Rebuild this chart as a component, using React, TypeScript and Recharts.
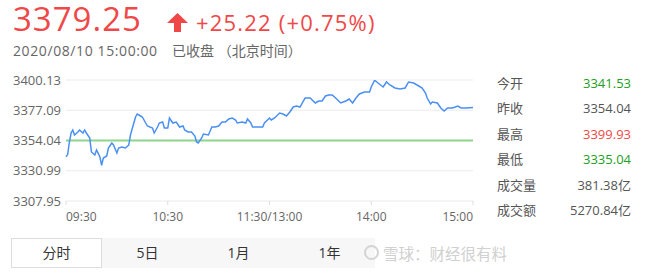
import React from 'react';
import { LineChart, Line, XAxis, YAxis, CartesianGrid, ReferenceLine } from 'recharts';

// minutes since 09:30 (trading minutes, lunch break skipped)
const minutes = [
  0, 1, 2, 3, 4, 5, 7, 8, 10, 11, 12, 14, 15, 17, 18, 20, 21, 22, 24, 25, 27, 28, 30, 31, 33, 35, 37, 38,
  40, 41, 42, 44, 45, 47, 48, 51, 52, 54, 55, 57, 58, 60, 61, 63, 65, 67, 69, 70, 72, 74, 76, 77, 78, 80,
  81, 84, 86, 88, 90, 92, 94, 96, 98, 100, 101, 104, 106, 107, 109, 110, 113, 116, 117, 120, 121, 123,
  126, 128, 130, 132, 134, 136, 138, 141, 144, 147, 149, 151, 153, 155, 157, 159, 162, 165, 167, 169,
  171, 173, 176, 179, 180, 182, 184, 187, 189, 191, 194, 197, 200, 202, 205, 208, 210, 212, 213, 215,
  216, 219, 221, 223, 225, 228, 231, 233, 236, 240,
];

const prices = [
  3341.53, 3343.5, 3352.9, 3359.75, 3362.04, 3358.23, 3360.52, 3362.04, 3359.75, 3362.04, 3359.75, 3355.95,
  3345.28, 3343.0, 3346.8, 3341.47, 3335.04, 3340.71, 3342.23, 3348.33, 3352.14, 3350.61, 3344.52, 3348.33,
  3349.09, 3348.33, 3350.61, 3358.23, 3367.37, 3371.94, 3374.23, 3372.7, 3371.94, 3367.37, 3365.09, 3363.56,
  3359.75, 3364.32, 3367.37, 3368.13, 3363.56, 3363.56, 3371.18, 3367.37, 3368.13, 3364.32, 3365.09, 3362.04,
  3360.52, 3360.52, 3357.47, 3352.9, 3352.14, 3355.95, 3358.99, 3358.23, 3364.32, 3364.32, 3365.09, 3368.13,
  3368.13, 3370.42, 3371.18, 3369.66, 3367.37, 3368.13, 3367.37, 3370.42, 3367.37, 3364.32, 3364.32, 3364.32,
  3367.37, 3371.18, 3369.66, 3371.18, 3374.99, 3374.23, 3372.7, 3375.75, 3379.56, 3380.32, 3379.56, 3386.42,
  3386.42, 3382.61, 3384.13, 3384.13, 3387.94, 3388.7, 3388.7, 3386.42, 3382.61, 3384.13, 3385.66, 3382.61,
  3386.42, 3389.47, 3390.99, 3390.99, 3394.8, 3399.93, 3397.84, 3394.8, 3398.61, 3396.32, 3394.04, 3393.27,
  3394.04, 3398.61, 3397.84, 3395.56, 3394.04, 3390.23, 3386.42, 3381.85, 3383.37, 3382.61, 3378.8, 3376.51,
  3378.8, 3378.8, 3380.32, 3378.8, 3378.8, 3379.25,
];

const yTicks = [3307.95, 3330.99, 3354.04, 3377.09, 3400.13];
const xTicks = [0, 60, 120, 180, 240];
const xLabels = ['09:30', '10:30', '11:30/13:00', '14:00', '15:00'];
const prevClose = 3354.04;

const statLabels = ['今开', '昨收', '最高', '最低', '成交量', '成交额'];
const statValues = ['3341.53', '3354.04', '3399.93', '3335.04', '381.38亿', '5270.84亿'];
const statColors = ['#22a022', '#555', '#f04848', '#22a022', '#555', '#555'];

const tabs = ['分时', '5日', '1月', '1年'];

const chartData = minutes.map((m, i) => ({ m, p: prices[i] }));

const FONT = "'Open Sans', 'Noto Sans CJK SC', sans-serif";
const RED = '#f04848';

const XTick = (props: any) => {
  const { x, y, payload, index } = props;
  const i = xTicks.indexOf(payload.value);
  const anchor = index === 0 ? 'start' : i === xTicks.length - 1 ? 'end' : 'middle';
  return (
    <text x={x} y={y} dy="0.71em" textAnchor={anchor} fill="#666" fontSize={12} fontFamily={FONT}>
      {xLabels[i]}
    </text>
  );
};

export default function App() {
  return (
    <div
      style={{
        position: 'absolute',
        left: 0,
        top: 0,
        width: 660,
        height: 274,
        background: '#fff',
        fontFamily: FONT,
        overflow: 'hidden',
      }}
    >
      {/* header */}
      <div style={{ position: 'absolute', left: 13, top: 0, fontSize: 33, letterSpacing: 1, color: RED, lineHeight: '38px' }}>
        3379.25
      </div>
      <svg style={{ position: 'absolute', left: 167, top: 13 }} width={21} height={19}>
        <polygon points="10.5,0 21,10 14,10 14,19 7,19 7,10 0,10" fill={RED} />
      </svg>
      <div style={{ position: 'absolute', left: 196, top: 6, fontSize: 22, letterSpacing: 1.2, color: RED, lineHeight: '32px' }}>
        +25.22 (+0.75%)
      </div>
      <div style={{ position: 'absolute', left: 13, top: 41, fontSize: 14, letterSpacing: 0.6, color: '#666', lineHeight: '20px' }}>
        2020/08/10 15:00:00
      </div>
      <div style={{ position: 'absolute', left: 172, top: 41, fontSize: 14, color: '#666', lineHeight: '20px', whiteSpace: 'pre' }}>
        已收盘 （北京时间）
      </div>

      {/* chart */}
      <div style={{ position: 'absolute', left: 0, top: 0 }}>
        <LineChart width={480} height={230} data={chartData} margin={{ top: 80, right: 7, bottom: 0, left: 0 }}>
          <CartesianGrid vertical={false} stroke="#ebebeb" />
          <XAxis
            type="number"
            dataKey="m"
            domain={[0, 240]}
            ticks={xTicks}
            axisLine={false}
            tickLine={{ stroke: '#ddd' }}
            tickSize={4}
            tickMargin={7}
            height={29}
            tick={<XTick />}
            interval={0}
          />
          <YAxis
            type="number"
            domain={[3307.95, 3400.13]}
            ticks={yTicks}
            allowDataOverflow
            axisLine={false}
            tickLine={false}
            tickSize={0}
            tickMargin={5}
            width={66}
            interval={0}
            tickFormatter={(v: number) => v.toFixed(2)}
            tick={{ fill: '#666', fontSize: 13, fontFamily: FONT }}
          />
          <ReferenceLine y={prevClose} stroke="#8ed48e" strokeWidth={2} />
          <Line
            type="linear"
            dataKey="p"
            stroke="#4a8ff2"
            strokeWidth={1.5}
            dot={false}
            isAnimationActive={false}
          />
        </LineChart>
      </div>

      {/* stats panel */}
      {statLabels.map((label, i) => (
        <div
          key={label}
          style={{
            position: 'absolute',
            left: 497,
            top: 71 + i * 25.4,
            width: 134,
            height: 25,
            lineHeight: '25px',
            fontSize: 13,
            display: 'flex',
            justifyContent: 'space-between',
          }}
        >
          <span style={{ color: '#555' }}>{label}</span>
          <span style={{ color: statColors[i] }}>{statValues[i]}</span>
        </div>
      ))}

      {/* tabs */}
      {tabs.map((t, i) => (
        <div
          key={t}
          style={{
            position: 'absolute',
            left: 11 + i * 91,
            top: 238,
            width: i === 0 ? 89 : 91,
            height: i === 0 ? 28 : 30,
            lineHeight: i === 0 ? '28px' : '30px',
            textAlign: 'center',
            fontSize: 14,
            color: '#333',
            background: i === 0 ? '#fff' : '#f7f7f7',
            border: i === 0 ? '1px solid #ddd' : 'none',
            borderRight: i > 0 && i < 3 ? '1px solid #eee' : i === 0 ? '1px solid #ddd' : 'none',
            boxSizing: 'content-box',
          }}
        >
          {t}
        </div>
      ))}

      {/* watermark */}
      <div
        style={{
          position: 'absolute',
          left: 364,
          top: 245,
          width: 15,
          height: 15,
          borderRadius: '50%',
          border: '2px solid #d4d4d4',
          boxSizing: 'border-box',
        }}
      />
      <div style={{ position: 'absolute', left: 383, top: 242, fontSize: 15.5, color: '#d0d0d0', lineHeight: '22px', fontFamily: "'Noto Sans CJK SC', sans-serif" }}>
        雪球：财经很有料
      </div>
    </div>
  );
}
